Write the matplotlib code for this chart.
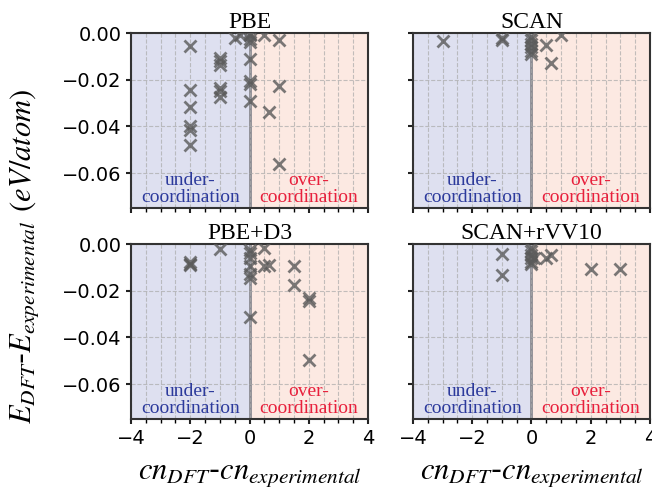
import matplotlib
matplotlib.use('Agg')
import matplotlib.pyplot as plt
from matplotlib.ticker import MultipleLocator

# data: (cn_DFT - cn_exp, E_DFT - E_exp)
pbe_x = [-2, -2, -2, -2, -2, -2, -1, -1, -1, -1, -1, -1, -0.5, -0.33,
         0, 0, 0, 0, 0, 0, 0, 0, 0.5, 1, 1, 0.67, 1]
pbe_y = [-0.0054, -0.0246, -0.0317, -0.0400, -0.0417, -0.0480, -0.0107,
         -0.0121, -0.0136, -0.0236, -0.0250, -0.0274, -0.0020, -0.0010,
         -0.0010, -0.0025, -0.0040, -0.0110, -0.0207, -0.0220, -0.0290, -0.0005,
         -0.0010, -0.0030, -0.0226, -0.0340, -0.0560]

scan_x = [-3, -1, -1, 0, 0, 0, 0, 0, 0, 0.5, 0.67, 1]
scan_y = [-0.0036, -0.0020, -0.0030, -0.0015, -0.0030, -0.0045, -0.0060,
          -0.0075, -0.0090, -0.0050, -0.0129, -0.0007]

d3_x = [-2, -2, -2, -1, 0, 0, 0, 0, 0, 0, 0, 0.5, 0.5, 0.67, 1.5, 1.5,
        2, 2, 2]
d3_y = [-0.0077, -0.0085, -0.0091, -0.0020, -0.0025, -0.0040, -0.0060,
        -0.0096, -0.0130, -0.0146, -0.0314, -0.0017, -0.0096, -0.0089,
        -0.0096, -0.0174, -0.0231, -0.0243, -0.0496]

rvv_x = [-1, -1, 0, 0, 0, 0, 0, 0, 0.1, 0.5, 0.67, 2, 3]
rvv_y = [-0.0041, -0.0134, -0.0015, -0.0030, -0.0045, -0.0060, -0.0075,
         -0.0085, -0.0060, -0.0060, -0.0046, -0.0106, -0.0106]

titles = ['PBE', 'SCAN', 'PBE+D3', 'SCAN+rVV10']
xs = [pbe_x, scan_x, d3_x, rvv_x]
ys = [pbe_y, scan_y, d3_y, rvv_y]

plt.rcParams['mathtext.fontset'] = 'stix'
serif = 'Liberation Serif'

fig = plt.figure(figsize=(6.52, 4.93), dpi=100)
pos = [[0.201, 0.578, 0.3635, 0.355], [0.6334, 0.578, 0.3635, 0.355],
       [0.201, 0.150, 0.3635, 0.355], [0.6334, 0.150, 0.3635, 0.355]]

for i in range(4):
    ax = fig.add_axes(pos[i])
    ax.axvspan(-4, 0, color='#dee0f0', zorder=0)
    ax.axvspan(0, 4, color='#fce9e2', zorder=0)
    ax.axvline(0, color='#8a8a92', lw=2, zorder=1)
    ax.plot(xs[i], ys[i], 'x', color='#5a5a5a', alpha=0.8, ms=8, mew=2, zorder=3)
    ax.set_xlim(-4, 4)
    ax.set_ylim(-0.075, 0)
    ax.xaxis.set_major_locator(MultipleLocator(2))
    ax.xaxis.set_minor_locator(MultipleLocator(0.5))
    ax.yaxis.set_major_locator(MultipleLocator(0.02))
    ax.grid(True, which='both', axis='x', ls='--', color='#aaaaaa', lw=0.8, alpha=0.7)
    ax.grid(True, which='major', axis='y', ls='--', color='#aaaaaa', lw=0.8, alpha=0.7)
    for sp in ax.spines.values():
        sp.set_color('#333333')
        sp.set_linewidth(1.5)
    ax.tick_params(labelsize=14, width=1.5, color='#222222')
    ax.tick_params(which='minor', width=1.0, length=3)
    ax.set_title(titles[i], fontsize=17, family=serif, pad=1)
    ax.text(-2, -0.0742, 'under-\ncoordination', ha='center', va='bottom',
            color='#2c3a9c', fontsize=14, family=serif, linespacing=1.05)
    ax.text(2, -0.0742, 'over-\ncoordination', ha='center', va='bottom',
            color='#e8203c', fontsize=14, family=serif, linespacing=1.05)
    if i < 2:
        ax.tick_params(labelbottom=False)
    else:
        ax.set_xlabel(r'$cn_{DFT}$-$cn_{experimental}$', fontsize=22, labelpad=9)
    if i % 2 == 1:
        ax.tick_params(labelleft=False)
    for lab in ax.get_xticklabels() + ax.get_yticklabels():
        lab.set_family('DejaVu Sans')

fig.text(0.038, 0.48, r'$E_{DFT}$-$E_{experimental}$ $(eV/atom)$', rotation=90,
         ha='center', va='center', fontsize=22)

fig.savefig('out.png', dpi=100)
